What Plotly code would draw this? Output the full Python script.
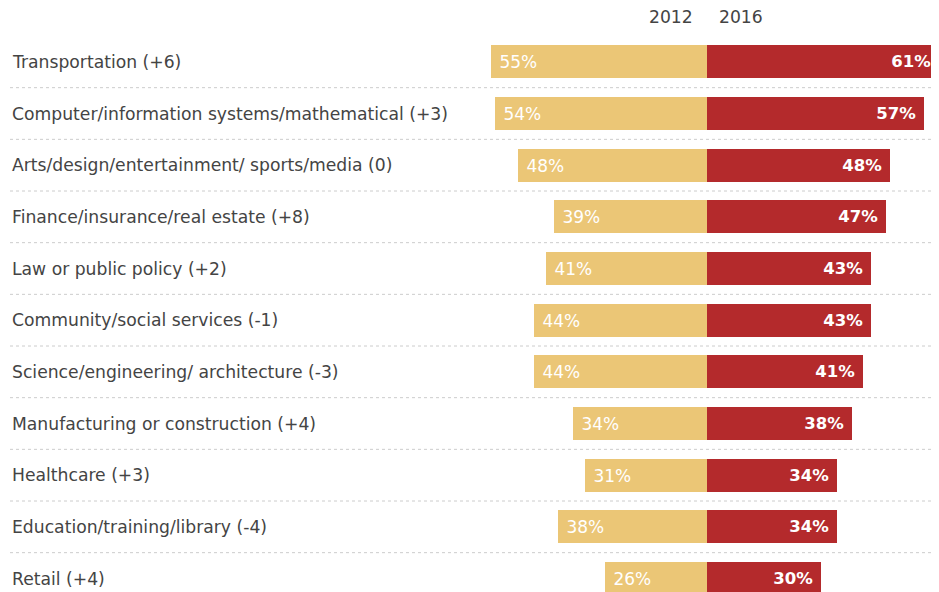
import plotly.graph_objects as go

categories = [
    "Transportation (+6)",
    "Computer/information systems/mathematical (+3)",
    "Arts/design/entertainment/ sports/media (0)",
    "Finance/insurance/real estate (+8)",
    "Law or public policy (+2)",
    "Community/social services (-1)",
    "Science/engineering/ architecture (-3)",
    "Manufacturing or construction (+4)",
    "Healthcare (+3)",
    "Education/training/library (-4)",
    "Retail (+4)",
]
values_2012 = [55, 54, 48, 39, 41, 44, 44, 34, 31, 38, 26]
values_2016 = [61, 57, 48, 47, 43, 43, 41, 38, 34, 34, 30]
years = ["2012", "2016"]

OFF = 8  # page offset of the figure in the screenshot
W, H = 939 - OFF, 592 - OFF
cx = 707 - OFF
scale_left = 3.93
scale_right = 3.81
row_px = 51.7
top = 61.5 - OFF - row_px / 2
plot_h = H - top
y_bottom = -0.5 + plot_h / row_px

idx = list(range(len(categories)))
FONT = "DejaVu Sans"

fig = go.Figure()
fig.add_trace(go.Bar(
    y=idx, x=[-v for v in values_2012], orientation="h",
    marker=dict(color="#EBC676", line=dict(width=0)),
    width=0.64,
    text=[f"&nbsp;{v}%" for v in values_2012],
    textposition="inside", insidetextanchor="end",
    textfont=dict(family=FONT, size=17, color="#ffffff"),
    hoverinfo="skip", showlegend=False,
    xaxis="x", yaxis="y",
))
fig.add_trace(go.Bar(
    y=idx, x=values_2016, orientation="h",
    marker=dict(color="#B42A2C", line=dict(width=0)),
    width=0.64,
    text=[f"<b>{v}%</b>&nbsp;" for v in values_2016],
    textposition="inside", insidetextanchor="end",
    textfont=dict(family=FONT, size=16.5, color="#ffffff"),
    hoverinfo="skip", showlegend=False,
    xaxis="x2", yaxis="y",
))

annotations = []
for i, c in enumerate(categories):
    annotations.append(dict(
        x=(12 - OFF - 2) / W, xref="paper", xanchor="left",
        y=i, yref="y", yanchor="middle",
        text=c, showarrow=False,
        font=dict(family=FONT, size=17.2, color="#444444"),
    ))
hy = 1 + (top - (17 - OFF)) / plot_h
annotations.append(dict(x=0, xref="x", xanchor="right", xshift=-12,
                        y=hy, yref="paper", yanchor="middle", text=years[0],
                        showarrow=False, font=dict(family=FONT, size=17.2, color="#444444")))
annotations.append(dict(x=0, xref="x", xanchor="left", xshift=10,
                        y=hy, yref="paper", yanchor="middle", text=years[1],
                        showarrow=False, font=dict(family=FONT, size=17.2, color="#444444")))

shapes = []
for i in range(len(categories) - 1):
    shapes.append(dict(
        type="line", xref="paper", yref="y",
        x0=(10 - OFF) / W, x1=1, y0=i + 0.5, y1=i + 0.5,
        line=dict(color="#cccccc", width=1, dash="dot"),
        layer="below",
    ))

fig.update_layout(
    width=W, height=H,
    margin=dict(l=0, r=0, t=top, b=0, pad=0),
    barmode="relative",
    bargap=0,
    plot_bgcolor="white", paper_bgcolor="white",
    xaxis=dict(range=[-cx / scale_left, (W - cx) / scale_left], visible=False, fixedrange=True),
    xaxis2=dict(range=[-cx / scale_right, (W - cx) / scale_right], visible=False,
                fixedrange=True, overlaying="x"),
    yaxis=dict(range=[y_bottom, -0.5], visible=False, fixedrange=True),
    annotations=annotations,
    shapes=shapes,
)

fig.write_html("out.html")
